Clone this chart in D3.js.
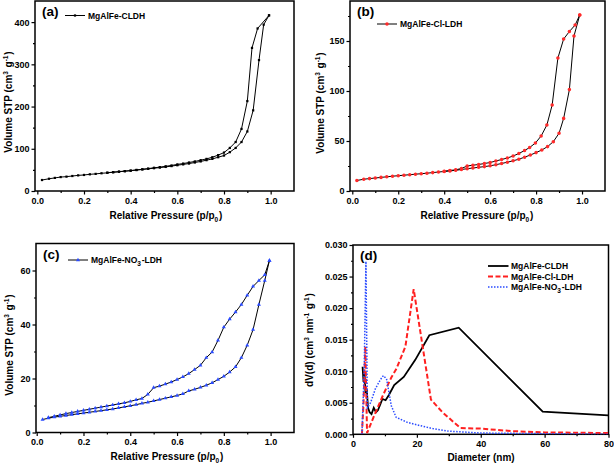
<!DOCTYPE html>
<html><head><meta charset="utf-8">
<script src="https://cdn.jsdelivr.net/npm/d3@7/dist/d3.min.js"></script>
<style>
html,body{margin:0;padding:0;background:#fff;}
text{font-family:"Liberation Sans",Arial,sans-serif;font-weight:bold;}
</style></head>
<body>
<svg id="chart" width="614" height="467"></svg>
<script>
// ---------- DATA ----------
// (a) MgAlFe-CLDH
const pressA_ads = [0.02,0.05,0.075,0.1,0.125,0.15,0.175,0.2,0.225,0.25,0.275,0.3,0.325,0.35,0.375,0.4,0.425,0.45,0.475,0.5,0.525,0.55,0.575,0.6,0.625,0.65,0.675,0.7,0.725,0.75,0.775,0.8,0.825,0.85,0.875,0.9,0.925,0.95,0.97,0.993];
const volA_ads   = [26,29,31,33,34,35.5,37,38,39.5,40.5,42,43,44.5,45.5,47,48,49.5,51,52.5,54,55.5,57,59,61,63,65,67.5,70,73,76,80,84,92,102,116,141,191,310,394,416];
const pressA_des = [0.993,0.944,0.92,0.9,0.875,0.85,0.825,0.8,0.775,0.75,0.725,0.7,0.675,0.65,0.625,0.6,0.575,0.55,0.525,0.5,0.475,0.45,0.425,0.4,0.375,0.35,0.325,0.3];
const volA_des   = [416,385,339,213,147,116,102,91,85,80,76,73,70,67.5,65,63,60.5,58.5,56.5,55,53,51.5,50,48.5,47,46,44.5,43.5];
// (b) MgAlFe-Cl-LDH
const pressB_ads = [0.02,0.05,0.075,0.1,0.125,0.15,0.175,0.2,0.225,0.25,0.275,0.3,0.325,0.35,0.375,0.4,0.425,0.45,0.475,0.5,0.525,0.55,0.575,0.6,0.625,0.65,0.675,0.7,0.725,0.75,0.775,0.8,0.825,0.85,0.875,0.9,0.92,0.945,0.965,0.99];
const volB_ads   = [10.5,11.8,12.4,13,13.6,14.2,14.8,15.3,15.8,16.3,16.8,17.3,17.8,18.4,19,19.5,20.1,20.7,21.5,22.3,23,23.7,24.4,25.2,26.3,27.5,28.8,30.2,31.8,33.8,36,38.4,41,44.4,49.3,57.7,72.6,101.4,155,176];
const pressB_des = [0.99,0.97,0.945,0.92,0.895,0.87,0.847,0.822,0.797,0.772,0.75,0.725,0.7,0.675,0.65,0.625,0.6,0.575,0.55,0.525,0.5,0.475,0.45,0.425,0.4];
const volB_des   = [176,166,159.5,152,133,86,66,55,48,43.5,40.5,37.5,35,33,31.5,30,28.5,27.5,26.5,25.8,25,22.5,21.2,20.5,19.8];
// (c) MgAlFe-NO3-LDH
const pressC_ads = [0.025,0.05,0.075,0.1,0.125,0.15,0.175,0.2,0.225,0.25,0.275,0.3,0.325,0.35,0.375,0.4,0.425,0.45,0.475,0.5,0.525,0.55,0.575,0.6,0.625,0.65,0.675,0.7,0.725,0.75,0.775,0.8,0.825,0.85,0.875,0.9,0.925,0.95,0.975,0.995];
const volC_ads   = [4.8,5.3,5.7,6.0,6.3,6.6,6.9,7.2,7.5,7.8,8.1,8.4,8.7,9.1,9.5,9.9,10.3,10.8,11.2,11.7,12.2,12.7,13.2,13.7,14.3,15.4,16,16.7,17.5,18.4,19.6,20.8,22.4,24.3,27.7,32.3,38.1,47.4,56.3,63.7];
const pressC_des = [0.995,0.975,0.95,0.925,0.9,0.875,0.85,0.825,0.8,0.775,0.75,0.725,0.7,0.675,0.65,0.625,0.6,0.575,0.55,0.525,0.5,0.475,0.45,0.425,0.4,0.375,0.35,0.325,0.3,0.275,0.25,0.225,0.2,0.175,0.15,0.125,0.1,0.075,0.05];
const volC_des   = [63.7,58.4,56.3,54.1,50.8,47.4,44.6,42,39,34.1,29.8,27.7,24.9,23.3,21.8,20.6,19.6,18.7,17.9,17.2,16.6,14.1,12.6,12.1,11.5,11,10.6,10.2,9.8,9.4,9.0,8.6,8.2,7.8,7.4,7.0,6.5,6.0,5.5];
// (d) pore size distribution
const diamCLDH = [3.0,3.3,3.6,3.9,4.3,4.7,5.2,5.8,6.5,7.2,7.8,8.6,9.2,10.2,11.2,12.9,15.9,19.5,23.9,33.1,59.4,80];
const dvCLDH   = [0.0107,0.0083,0.0098,0.0065,0.0072,0.0042,0.0035,0.0032,0.0042,0.0035,0.0038,0.0048,0.0056,0.0054,0.0062,0.0078,0.0091,0.0118,0.0157,0.0169,0.0036,0.0030];
const diamCl   = [2.8,3.3,3.85,4.4,6.5,9.4,12,13.6,16.4,19,24.4,28,33.6,40,50,60,80];
const dvCl     = [0,0.005,0.0139,0.0002,0.0028,0.0062,0.009,0.0104,0.0139,0.0230,0.0055,0.0035,0.0010,0.0009,0.0005,0.0003,0.0002];
const diamNO3  = [2.8,3.5,4.05,4.5,5.5,7,8.5,9.5,10.5,12,13.5,17,20,25,30,40,60,80];
const dvNO3    = [0,0.01,0.0274,0.0042,0.005,0.0072,0.0086,0.0093,0.0088,0.0045,0.0027,0.0019,0.0015,0.0009,0.0005,0.0002,0.0001,0];
const seriesNames = ["MgAlFe-CLDH","MgAlFe-Cl-LDH","MgAlFe-NO3-LDH"];
const pressTicks = [0,0.2,0.4,0.6,0.8,1.0];

// ---------- DRAW ----------
const svg = d3.select("#chart");
const zip = (xs, ys) => xs.map((x,i)=>[x,ys[i]]);

function addText(g, parts, attrs){
  const t = g.append("text");
  Object.entries(attrs).forEach(([k,v])=>t.attr(k,v));
  parts.forEach(p=>{
    if (typeof p === "string") t.append("tspan").text(p);
    else {
      const dy = p.sup ? -4 : 2.5;
      t.append("tspan").attr("dy",dy).attr("font-size",6.5).text(p.t);
      t.append("tspan").attr("dy",-dy).text("\u200a");
    }
  });
  return t;
}

function frameAxes(cfg){
  const g = svg.append("g");
  const x = d3.scaleLinear().domain(cfg.xDom).range([cfg.l,cfg.r]);
  const y = d3.scaleLinear().domain(cfg.yDom).range([cfg.b,cfg.t]);
  const styleAxis = sel => {
    sel.select(".domain").remove();
    sel.selectAll("line").attr("stroke","#000").attr("stroke-width",1.2);
    sel.selectAll("text").attr("font-size",9).attr("fill","#000")
       .attr("font-family","Liberation Sans, Arial, sans-serif").attr("font-weight","bold");
  };
  g.append("g").attr("transform",`translate(0,${cfg.b})`)
    .call(d3.axisBottom(x).tickValues(cfg.xMinor).tickSize(2).tickFormat("")).call(styleAxis);
  g.append("g").attr("transform",`translate(0,${cfg.b})`)
    .call(d3.axisBottom(x).tickValues(cfg.xTicks).tickSize(3.5).tickPadding(3).tickFormat(cfg.xFmt)).call(styleAxis);
  g.append("g").attr("transform",`translate(${cfg.l},0)`)
    .call(d3.axisLeft(y).tickValues(cfg.yMinor).tickSize(2).tickFormat("")).call(styleAxis);
  g.append("g").attr("transform",`translate(${cfg.l},0)`)
    .call(d3.axisLeft(y).tickValues(cfg.yTicks).tickSize(3.5).tickPadding(2).tickFormat(cfg.yFmt)).call(styleAxis);
  g.append("rect").attr("x",cfg.l).attr("y",cfg.t).attr("width",cfg.r-cfg.l).attr("height",cfg.b-cfg.t)
    .attr("fill","none").attr("stroke","#000").attr("stroke-width",1.5);
  // panel label
  g.append("text").attr("x",cfg.l+7).attr("y",cfg.t+15).attr("font-size",13.5).text(cfg.label);
  // axis labels
  addText(g, cfg.xLabel, {x:cfg.xLabX, y:cfg.xLabY, "text-anchor":"middle", "font-size":10});
  addText(g, cfg.yLabel, {transform:`translate(${cfg.yLabX},${cfg.yLabY}) rotate(-90)`, "text-anchor":"middle", "font-size":10});
  return {g,x,y};
}

const xLabP = ["Relative Pressure (p/p",{t:"0"},")"];
const yLabV = ["Volume STP (cm",{t:"3",sup:true}," g",{t:"-1",sup:true},")"];
const fmt1 = d3.format(".1f");

function isoPanel(cfg, ads, des, color, symbol, symSize, legendParts){
  const {g,x,y} = frameAxes(cfg);
  const line = d3.line().x(d=>x(d[0])).y(d=>y(d[1]));
  [ads,des].forEach(data=>{
    g.append("path").datum(data).attr("d",line).attr("fill","none").attr("stroke","#000").attr("stroke-width",1);
    g.selectAll(null).data(data).enter().append("path")
      .attr("transform",d=>`translate(${x(d[0])},${y(d[1])})`)
      .attr("d",d3.symbol().type(symbol).size(symSize)).attr("fill",color);
  });
  // legend
  const lg = cfg.leg;
  g.append("line").attr("x1",lg.x).attr("x2",lg.x+20).attr("y1",lg.y).attr("y2",lg.y).attr("stroke","#000").attr("stroke-width",1);
  g.append("path").attr("transform",`translate(${lg.x+10},${lg.y})`).attr("d",d3.symbol().type(symbol).size(symSize)).attr("fill",color);
  addText(g, legendParts, {x:lg.x+23, y:lg.y+3, "font-size":8.5});
}

const minorP = [0.1,0.3,0.5,0.7,0.9];

isoPanel({l:35,r:294,t:1,b:191,xDom:[-0.01,1.1],yDom:[0,450],xTicks:pressTicks,xMinor:minorP,
  yTicks:[0,100,200,300,400],yMinor:[50,150,250,350],xFmt:fmt1,yFmt:d3.format("d"),label:"(a)",
  xLabel:xLabP,yLabel:yLabV,xLabX:166,xLabY:219,yLabX:11.5,yLabY:102,leg:{x:65,y:15.5}},
  zip(pressA_ads,volA_ads), zip(pressA_des,volA_des), "#000", d3.symbolSquare, 5, [seriesNames[0]]);

isoPanel({l:350,r:605,t:1,b:191,xDom:[-0.01,1.1],yDom:[0,190],xTicks:pressTicks,xMinor:minorP,
  yTicks:[0,50,100,150],yMinor:[25,75,125,175],xFmt:fmt1,yFmt:d3.format("d"),label:"(b)",
  xLabel:xLabP,yLabel:yLabV,xLabX:477,xLabY:219,yLabX:324,yLabY:103,leg:{x:377,y:24}},
  zip(pressB_ads,volB_ads), zip(pressB_des,volB_des), "#ff2a2a", d3.symbolCircle, 10, [seriesNames[1]]);

isoPanel({l:36,r:294,t:243.5,b:432.5,xDom:[-0.003,1.1],yDom:[0,70],xTicks:pressTicks,xMinor:minorP,
  yTicks:[0,20,40,60],yMinor:[10,30,50],xFmt:fmt1,yFmt:d3.format("d"),label:"(c)",
  xLabel:xLabP,yLabel:yLabV,xLabX:167,xLabY:460,yLabX:13,yLabY:345,leg:{x:68,y:260}},
  zip(pressC_ads,volC_ads), zip(pressC_des,volC_des), "#2a4bff", d3.symbolTriangle, 7,
  ["MgAlFe-NO",{t:"3"},"-LDH"]);

// (d)
(function(){
  const cfg = {l:353,r:608.5,t:245,b:434.3,xDom:[0,80],yDom:[0,0.03],xTicks:[0,20,40,60,80],xMinor:[10,30,50,70],
    yTicks:[0,0.005,0.01,0.015,0.02,0.025,0.03],yMinor:[0.0025,0.0075,0.0125,0.0175,0.0225,0.0275],
    xFmt:d3.format("d"),yFmt:d3.format(".3f"),label:"(d)",
    xLabel:["Diameter (nm)"],yLabel:["dV(d) (cm",{t:"3",sup:true}," nm",{t:"-1",sup:true}," g",{t:"-1",sup:true},")"],
    xLabX:481,xLabY:461,yLabX:313,yLabY:340};
  const {g,x,y} = frameAxes(cfg);
  const line = d3.line().x(d=>x(d[0])).y(d=>y(d[1]));
  const styles = [
    {data:zip(diamCLDH,dvCLDH), color:"#000", w:1.8, dash:null},
    {data:zip(diamCl,dvCl), color:"#ff2020", w:2, dash:"5,2.5"},
    {data:zip(diamNO3,dvNO3), color:"#2a4bff", w:1.5, dash:"1.5,1.5"}
  ];
  const clipId = "clipD";
  svg.append("clipPath").attr("id",clipId).append("rect").attr("x",cfg.l).attr("y",cfg.t).attr("width",cfg.r-cfg.l).attr("height",cfg.b-cfg.t);
  styles.forEach(s=>{
    g.append("path").datum(s.data).attr("d",line).attr("fill","none").attr("stroke",s.color)
     .attr("stroke-width",s.w).attr("stroke-dasharray",s.dash).attr("clip-path",`url(#${clipId})`);
  });
  const legY = [266,276.5,287];
  const legParts = [[seriesNames[0]],[seriesNames[1]],["MgAlFe-NO",{t:"3"},"-LDH"]];
  styles.forEach((s,i)=>{
    g.append("line").attr("x1",488).attr("x2",508.5).attr("y1",legY[i]).attr("y2",legY[i])
     .attr("stroke",s.color).attr("stroke-width",s.w).attr("stroke-dasharray",s.dash);
    addText(g, legParts[i], {x:511, y:legY[i]+3, "font-size":8.5});
  });
})();
</script>
</body></html>
